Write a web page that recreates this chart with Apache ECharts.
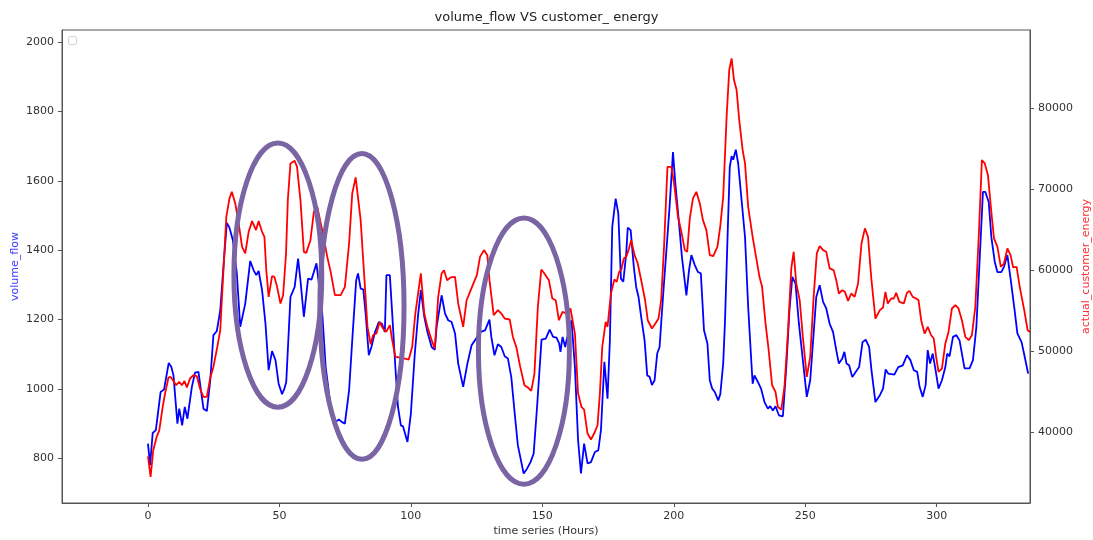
<!DOCTYPE html>
<html>
<head>
<meta charset="utf-8">
<script src="https://cdn.jsdelivr.net/npm/echarts@6/dist/echarts.min.js"></script>
<style>
  html, body { margin: 0; padding: 0; background: #fff; }
  #chart { width: 1093px; height: 540px; }
</style>
</head>
<body>
<div id="chart"></div>
<script>
// ---- data ----
const titleText = 'volume_flow VS customer_ energy';
const xName = 'time series (Hours)';
const leftName = 'volume_flow';
const rightName = 'actual_customer_energy';

const xTicks = [0, 50, 100, 150, 200, 250, 300];
const leftTicks = [800, 1000, 1200, 1400, 1600, 1800, 2000];
const rightTicks = [40000, 50000, 60000, 70000, 80000];

const flowHours = [0,0.8,1.8,3,4.8,6.1,7.9,8.9,9.7,11.2,11.9,13,14,15,16.7,17.9,19.2,20.5,21.1,22.4,23.7,24.9,26.2,27.5,28.8,30,31,32.3,33.8,35.1,37,38.9,40.2,41.2,42.1,43.4,44.7,45.9,47.2,48.5,49.7,51,51.9,52.6,54.2,55.8,57.1,58,59.3,60.9,62.2,64.1,66.3,67.6,69.5,71.4,72.6,73.7,74.9,76.5,77.7,79.2,
79.9,80.9,81.9,82.8,84,85,86.2,87.8,89,90.1,90.7,92,92.9,94.1,95.1,96.2,97,98.7,100,101.5,102.8,103.8,105.1,106.3,107.9,109.1,109.8,111.7,113,114.2,115.5,116.8,118,119.9,121.5,123.1,124.8,126.3,128.2,129.9,
130.6,131.8,133.1,134.4,135.7,136.9,138.2,139.5,140.7,141.6,142.9,144.2,145.5,146.7,148,149.7,151.3,152.8,154.1,155.4,156.4,156.9,157.7,158.7,159.2,161.1,162.4,163.6,164.7,165.9,167.2,168.5,170,171.3,172.3,173.6,174.1,174.8,175.7,176.6,177.9,178.9,179.9,
180.8,181.9,182.5,183.6,184.8,185.7,186.6,187.6,188.9,189.9,190.8,191.7,192.7,193.7,194.6,195.9,197.2,198.4,199.7,200.6,201.9,203.1,204.8,205.8,206.7,208,209.2,210.3,211.5,212.8,213.7,214.6,215.6,216.9,217.7,218.8,219.5,220.3,221.3,222,222.6,223.6,224.5,225.8,227.1,228.3,229.4,230,
230.7,232,233.2,234.5,235.8,236.7,237.7,238.7,240,241.5,242.8,244,245.1,246.3,247.6,249.1,250.6,251.9,253.2,254.2,255.5,256.8,258,259.3,260.6,261.8,262.8,264.1,264.9,265.7,266.7,267.9,269.2,270.5,271.8,273,274.3,275.2,276.7,278.4,279.6,
280.6,281.6,283.9,285.4,287.1,288.7,290,291.3,292.6,293.5,294.7,295.8,296.6,297.5,298.5,299.4,300.7,302,303.3,304,304.9,306.2,307.5,308.7,310.6,312.5,313.8,315.1,316.4,317.6,318.5,319.8,320.8,322.1,323.1,324.6,325.6,326.9,328.2,329.5,330.7,332.3,333.5,334.8];
const flowValues = [842,780,873,881,991,998,1075,1063,1039,900,943,895,948,914,1006,1047,1049,977,943,936,1025,1155,1167,1227,1362,1479,1465,1429,1333,1179,1246,1369,1342,1328,1340,1285,1188,1054,1109,1083,1015,985,1001,1020,1265,1294,1376,1313,1208,1318,1315,1362,1217,1063,948,905,912,905,900,996,1140,1313,
1333,1289,1287,1217,1097,1121,1160,1193,1188,1164,1328,1328,1217,1063,948,895,892,847,929,1102,1217,1285,1208,1164,1121,1113,1179,1270,1217,1198,1193,1160,1073,1006,1073,1126,1145,1164,1169,1200,
1150,1097,1129,1121,1094,1088,1034,929,837,804,756,770,789,813,948,1142,1145,1171,1150,1148,1131,1107,1150,1121,1140,1198,1063,852,756,842,785,789,818,823,881,1078,1083,972,1140,1467,1549,1506,1318,
1309,1390,1465,1458,1352,1294,1265,1208,1140,1039,1035,1011,1025,1102,1121,1265,1400,1525,1683,1592,1486,1381,1270,1342,1386,1357,1337,1333,1169,1131,1025,1001,991,967,985,1073,1198,1400,1640,1671,1661,1690,1650,1544,1438,1236,1092,1015,
1039,1020,1001,962,943,950,938,950,924,921,1063,1227,1323,1304,1188,1083,977,1025,1160,1265,1299,1251,1232,1188,1164,1112,1073,1088,1107,1073,1068,1034,1049,1063,1135,1142,1121,1054,962,982,1001,
1056,1044,1041,1063,1068,1097,1083,1054,1049,1006,977,1011,1112,1073,1102,1063,1001,1025,1063,1102,1094,1150,1155,1140,1059,1059,1083,1179,1381,1568,1568,1539,1438,1366,1337,1337,1352,1386,1313,1236,1160,1135,1092,1044];

const energyHours = [0,1,2,3.3,4.3,5.6,6.5,7.8,8.6,9.7,10.7,11.9,12.9,13.9,14.8,16,17.3,18.6,19.8,21.1,22.4,23.7,24.9,26.5,27.5,28.5,29.8,31,31.9,33.2,34.5,35.8,37,38.3,39.6,40.2,41.1,42.1,43.4,44.3,45,45.9,47.2,48.1,49.1,50.4,51.4,52.5,53.2,54.2,55.8,56.7,58,59.3,60.2,61.8,63.1,64.4,66.3,68.2,69.5,71.1,73.3,74.9,76.5,77.7,79,
79.6,80.9,82.2,83.5,84.7,85.6,86.9,88.1,89.4,90.6,92,92.9,94.1,95.8,97.4,99.2,100.5,101.7,103.8,105.1,106.3,107.9,109.1,110.4,111.7,112.6,113.8,115.1,116.8,118,119.9,121.2,122.5,123.8,125.1,126.3,127.8,129.1,
129.9,131.5,133.1,134.4,135.7,137.6,138.8,140.1,141.6,143.2,144.5,145.8,147,148.3,149.6,150.8,152.5,153.8,155.1,156.3,157.7,159.2,160.7,162.4,163.6,164.9,165.9,167.2,168.5,169.7,171,171.9,172.8,174.1,174.8,176.1,177.4,178.3,179.2,
180,181,181.9,182.8,183.8,185.1,186.3,187.6,189.1,190.1,191.7,193,194.2,195.2,196.3,197.6,199.1,200.3,201.6,202.9,204.2,205.1,206.1,207.3,208.6,209.9,211.1,212.4,213.7,215,216.6,217.7,218.8,220.1,221.1,222,222.9,223.9,224.9,226.2,227.1,228.3,230,
231.3,232.6,233.6,234.9,236.1,237.4,238.7,239.6,240.9,242.1,243.4,244.7,245.6,246.6,247.9,249.1,250.6,251.9,253.2,254.4,255.5,256.8,258,259.3,260.8,261.8,262.8,264.1,265.1,266.3,267.5,268.8,270.1,271.4,272.7,273.9,275.2,276.7,278.4,279.6,
280.5,281.4,282.7,283.7,284.6,285.8,287.5,288.7,289.6,290.9,292.2,293.1,294.1,295.4,296.6,297.9,298.9,299.8,300.7,302,303.3,304.5,305.8,307.1,308.3,309.6,310.9,312.2,313.4,314.7,316,317.2,318.3,319.5,320.6,321.8,323.1,324.4,325.6,326.9,328.1,329.1,330.4,331.6,333.3,334.6,335.5];
const energyValues = [37070,34520,37820,39460,40280,43160,44820,46790,46860,46370,45840,46250,45840,46370,45560,46670,47070,46950,45430,44400,44400,46790,48100,50780,52630,58800,66620,68890,69700,68270,65800,62910,62100,64770,66090,66090,64980,66090,64770,64150,60040,56740,59300,59210,57980,55930,56950,62000,68700,73210,73530,72790,68680,62300,62170,63740,67240,67850,64980,61680,59830,56950,56950,57980,63330,69510,71480,
71560,66210,59630,53040,50900,52010,52220,53650,52840,52420,53250,51400,49330,49260,49140,49010,50570,54690,59630,54690,53040,51400,50370,56740,59630,60040,58800,59140,59210,55930,53040,56330,57360,58400,59420,61680,62510,61890,
58800,54480,55100,54690,54070,53950,51800,50570,48100,45840,45560,45140,47280,55510,60120,59630,58800,56540,56330,53860,54890,54690,55310,52200,44820,43160,42840,39880,39140,39880,40900,44820,50570,53650,53040,57160,58890,58590,59830,
60040,61480,61680,62510,63740,61890,60860,58800,56330,53860,52840,53460,54070,56330,62910,72790,72790,70320,66620,64770,62510,62300,66420,68890,69700,68270,66210,64980,61890,61770,62910,65500,69090,78960,84730,86170,83490,82260,78560,74850,73210,67850,64150,
61680,59210,57980,53460,50160,45840,45010,43160,42840,45630,52220,60250,62300,58400,56330,51800,46860,49330,56740,62100,63000,62510,62300,60250,60040,58800,57160,57570,57360,56250,57160,56740,58400,63330,65190,64150,58800,54070,55100,55430,
57360,55930,56540,56540,57240,56120,55930,57240,57480,56740,56540,56330,53860,52220,53040,52010,51600,49330,47480,47900,50990,52420,55310,55720,55310,53860,51800,51400,52010,55510,64150,73620,73210,71770,67850,63950,62910,60440,60860,62720,61890,60370,60440,57980,55100,52630,52420];

// annotation ellipses, in data units: [centre hour, centre volume_flow, half-width hours, half-height volume_flow]
const ellipses = [
  [49.4, 1328, 16.7, 381],
  [81.4, 1238, 16.0, 441],
  [143.0, 1109, 17.3, 384]
];

// ---- chart ----
const flowData = flowHours.map((h, i) => [h, flowValues[i]]);
const energyData = energyHours.map((h, i) => [h, energyValues[i]]);

const FONT = 'DejaVu Sans';
const chart = echarts.init(document.getElementById('chart'), null, { renderer: 'canvas' });

const plain = (v) => String(v);
const axisCommon = {
  axisLine: { show: true, onZero: false, lineStyle: { color: '#555', width: 1 } },
  axisTick: { show: true, inside: false, length: 4, lineStyle: { color: '#555', width: 1 } },
  splitLine: { show: false },
  axisLabel: { color: '#333', fontFamily: FONT, fontSize: 11, margin: 8, formatter: plain }
};

chart.setOption({
  animation: false,
  backgroundColor: '#fff',
  title: {
    text: titleText,
    left: 'center',
    top: 6,
    textStyle: { fontFamily: FONT, fontSize: 13, fontWeight: 'normal', color: '#222' }
  },
  grid: {
    left: 62, right: 63, top: 30, bottom: 37,
    containLabel: false,
    outerBoundsMode: 'none',
    show: true, borderColor: '#555', borderWidth: 1, backgroundColor: 'transparent'
  },
  xAxis: {
    type: 'value',
    min: -32.7, max: 335.5,
    name: xName,
    nameLocation: 'middle',
    nameGap: 23,
    nameMoveOverlap: false,
    nameTextStyle: { fontFamily: FONT, fontSize: 11, color: '#333' },
    ...axisCommon,
    axisTick: { ...axisCommon.axisTick, customValues: xTicks },
    axisLabel: { ...axisCommon.axisLabel, customValues: xTicks }
  },
  yAxis: [
    {
      type: 'value',
      position: 'left',
      min: 671, max: 2035,
      name: leftName,
      nameLocation: 'middle',
      nameRotate: 90,
      nameGap: 41,
      nameMoveOverlap: false,
      nameTextStyle: { fontFamily: FONT, fontSize: 11, color: '#4040ff' },
      ...axisCommon,
      axisTick: { ...axisCommon.axisTick, customValues: leftTicks },
      axisLabel: { ...axisCommon.axisLabel, customValues: leftTicks }
    },
    {
      type: 'value',
      position: 'right',
      min: 31310, max: 89670,
      name: rightName,
      nameLocation: 'middle',
      nameRotate: 90,
      nameGap: 51,
      nameMoveOverlap: false,
      nameTextStyle: { fontFamily: FONT, fontSize: 11, color: '#ff3030' },
      ...axisCommon,
      axisTick: { ...axisCommon.axisTick, customValues: rightTicks },
      axisLabel: { ...axisCommon.axisLabel, customValues: rightTicks }
    }
  ],
  series: [
    {
      name: 'volume_flow', type: 'line', xAxisIndex: 0, yAxisIndex: 0,
      data: flowData, showSymbol: false, symbol: 'none', smooth: false,
      lineStyle: { color: '#0000ff', width: 1.8 }, itemStyle: { color: '#0000ff' }, z: 2
    },
    {
      name: 'actual_customer_energy', type: 'line', xAxisIndex: 0, yAxisIndex: 1,
      data: energyData, showSymbol: false, symbol: 'none', smooth: false,
      lineStyle: { color: '#ff0000', width: 1.8 }, itemStyle: { color: '#ff0000' }, z: 3
    }
  ]
});

// annotation ellipses and the empty legend box
const finder = { xAxisIndex: 0, yAxisIndex: 0 };
const graphics = ellipses.map((e) => {
  const c = chart.convertToPixel(finder, [e[0], e[1]]);
  const px = chart.convertToPixel(finder, [e[0] + e[2], e[1]]);
  const py = chart.convertToPixel(finder, [e[0], e[1] + e[3]]);
  return {
    type: 'ellipse',
    shape: { cx: c[0], cy: c[1], rx: px[0] - c[0], ry: c[1] - py[1] },
    style: { fill: 'none', stroke: '#7a64a4', lineWidth: 5 },
    z: 100
  };
});
const gridRect = chart.getModel().getComponent('grid', 0).coordinateSystem.getRect();
graphics.push({
  type: 'rect',
  shape: { x: gridRect.x + 6.5, y: gridRect.y + 6.5, width: 8, height: 8, r: 2 },
  style: { fill: '#fff', stroke: '#d0d0d0', lineWidth: 1 },
  z: 100
});
chart.setOption({ graphic: graphics });
</script>
</body>
</html>
